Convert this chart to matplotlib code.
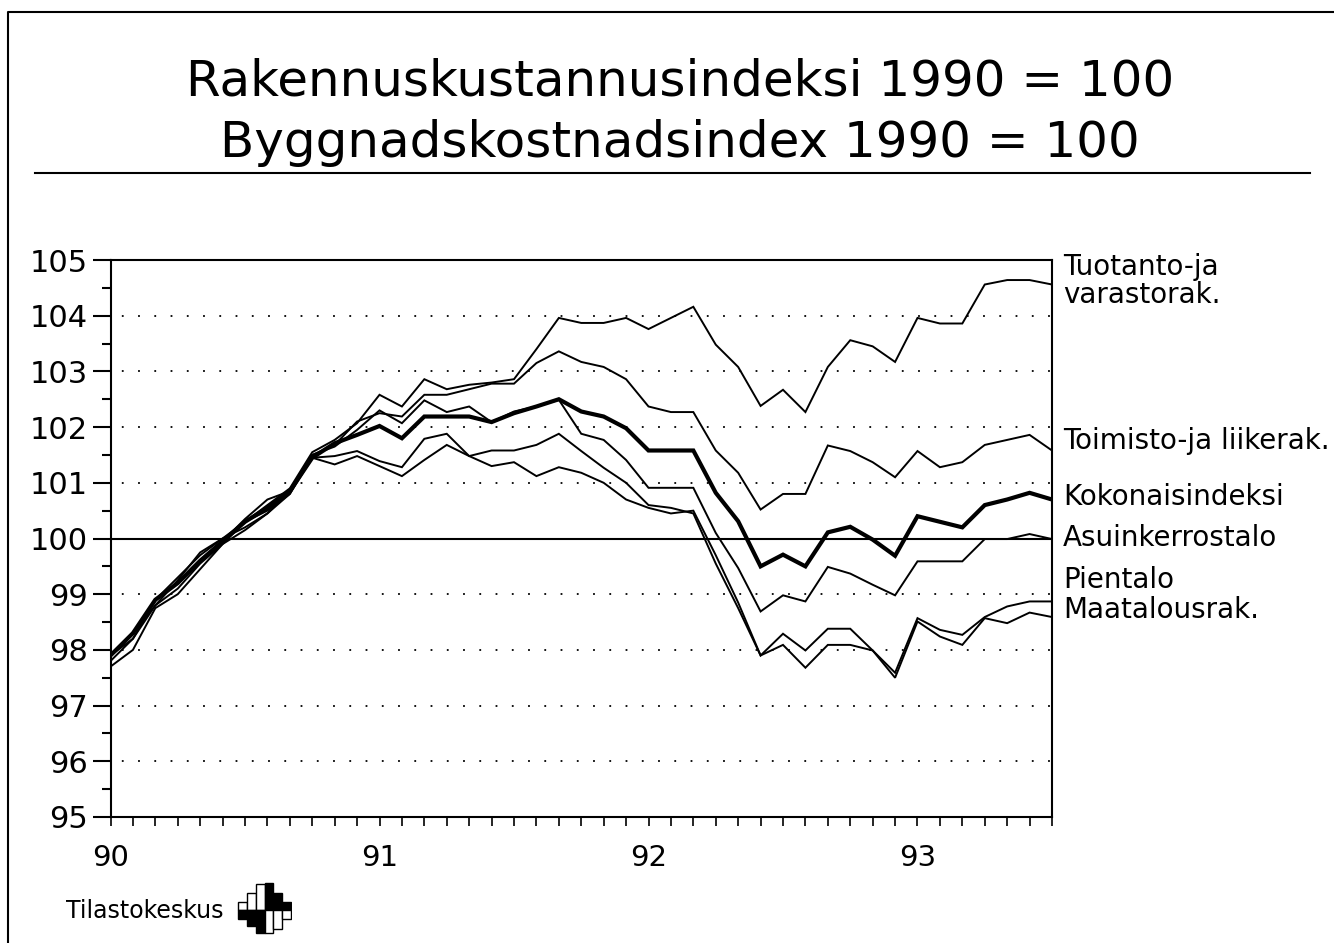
import matplotlib.pyplot as plt
from matplotlib.lines import Line2D

plt.rcParams['font.family'] = 'DejaVu Sans'

# monthly index, Jan 1990 .. Jul 1993 (43 months)
months = list(range(43))
year_ticks = [0, 12, 24, 36]
year_labels = ['90', '91', '92', '93']

tuotanto = [97.9, 98.3, 98.9, 99.3, 99.7, 100.0, 100.3, 100.6, 100.9, 101.55,
            101.77, 102.07, 102.58, 102.37, 102.86, 102.68, 102.76, 102.8, 102.86, 103.4,
            103.96, 103.87, 103.87, 103.96, 103.76, 103.96, 104.16, 103.48, 103.08, 102.38,
            102.67, 102.27, 103.08, 103.56, 103.45, 103.17, 103.96, 103.86, 103.86, 104.56,
            104.64, 104.64, 104.56]
toimisto = [97.9, 98.2, 98.9, 99.2, 99.6, 99.95, 100.35, 100.7, 100.85, 101.5,
            101.68, 102.1, 102.25, 102.19, 102.58, 102.58, 102.68, 102.78, 102.78, 103.15,
            103.36, 103.17, 103.08, 102.86, 102.37, 102.27, 102.27, 101.58, 101.18, 100.52,
            100.8, 100.8, 101.67, 101.57, 101.37, 101.1, 101.57, 101.28, 101.37, 101.68,
            101.77, 101.86, 101.58]
kokonais = [97.9, 98.3, 98.9, 99.2, 99.6, 99.95, 100.3, 100.55, 100.85, 101.45,
            101.71, 101.86, 102.02, 101.8, 102.19, 102.19, 102.19, 102.09, 102.25, 102.37,
            102.5, 102.28, 102.19, 101.98, 101.58, 101.58, 101.58, 100.82, 100.31, 99.5,
            99.71, 99.5, 100.11, 100.21, 99.98, 99.69, 100.4, 100.3, 100.2, 100.6,
            100.7, 100.82, 100.7]
asuin = [97.8, 98.2, 98.8, 99.1, 99.55, 99.9, 100.3, 100.5, 100.8, 101.5,
         101.65, 101.95, 102.3, 102.07, 102.48, 102.27, 102.37, 102.09, 102.28, 102.37,
         102.49, 101.88, 101.77, 101.41, 100.91, 100.91, 100.91, 100.1, 99.47, 98.69,
         98.98, 98.87, 99.49, 99.37, 99.17, 98.98, 99.59, 99.59, 99.59, 99.99,
         99.99, 100.08, 99.99]
pientalo = [97.9, 98.3, 98.8, 99.25, 99.75, 100.0, 100.2, 100.45, 100.85, 101.45,
            101.48, 101.57, 101.39, 101.28, 101.79, 101.88, 101.48, 101.3, 101.37, 101.12,
            101.28, 101.18, 101.0, 100.7, 100.55, 100.45, 100.5, 99.7, 98.85, 97.9,
            98.29, 97.99, 98.38, 98.38, 97.99, 97.59, 98.57, 98.36, 98.27, 98.59,
            98.78, 98.87, 98.87]
maatalous = [97.7, 98.0, 98.75, 99.0, 99.45, 99.9, 100.15, 100.45, 100.8, 101.45,
             101.33, 101.48, 101.3, 101.12, 101.41, 101.68, 101.48, 101.58, 101.58, 101.68,
             101.88, 101.57, 101.27, 101.0, 100.6, 100.55, 100.45, 99.55, 98.75, 97.9,
             98.09, 97.68, 98.09, 98.09, 97.99, 97.5, 98.51, 98.24, 98.09, 98.57,
             98.48, 98.67, 98.59]

series = [tuotanto, toimisto, kokonais, asuin, pientalo, maatalous]
names = ['Tuotanto-ja\nvarastorak.', 'Toimisto-ja liikerak.', 'Kokonaisindeksi',
         'Asuinkerrostalo', 'Pientalo', 'Maatalousrak.']
widths = [1.4, 1.4, 3.0, 1.4, 1.4, 1.4]
label_y = [104.62, 101.75, 100.74, 100.0, 99.25, 98.72]

fig = plt.figure(figsize=(13.34, 9.43), dpi=100)
W, H = 1334, 943

# frame (left and top edges visible) and title rule
fig.add_artist(Line2D([8 / W, 8 / W, 1.0], [0.0, 1 - 12 / H, 1 - 12 / H], color='black', lw=1.5))
fig.add_artist(Line2D([35 / W, 1310 / W], [1 - 173 / H] * 2, color='black', lw=1.5))

fig.text(0.51, 1 - 96 / H, 'Rakennuskustannusindeksi 1990 = 100',
         ha='center', va='baseline', fontsize=36)
fig.text(0.51, 1 - 157 / H, 'Byggnadskostnadsindex 1990 = 100',
         ha='center', va='baseline', fontsize=36)

ax = fig.add_axes([110.5 / W, 1 - 817 / H, (1052 - 110.5) / W, (817 - 260) / H])

for v in [96, 97, 98, 99, 101, 102, 103, 104]:
    ax.axhline(v, color='black', lw=1.3, ls=(3, (1, 8)))
ax.axhline(100, color='black', lw=1.5)

for s, lw in zip(series, widths):
    ax.plot(months, s, color='black', lw=lw, solid_joinstyle='miter')

for name, y in zip(names, label_y):
    ax.text(42.5, y, name, fontsize=20, ha='left', va='center', linespacing=1.0,
            clip_on=False)

ax.set_xlim(0, 42)
ax.set_ylim(95, 105)
ax.set_yticks(range(95, 106))
ax.set_yticks([v + 0.5 for v in range(95, 105)], minor=True)
ax.set_xticks(year_ticks)
ax.set_xticklabels(year_labels)
ax.set_xticks(months, minor=True)

ax.tick_params(axis='y', which='major', direction='out', length=13, width=1.5, pad=3, labelsize=22)
ax.tick_params(axis='y', which='minor', direction='out', length=6.5, width=1.5)
ax.tick_params(axis='x', which='both', direction='out', length=6.5, width=1.2, pad=13, labelsize=21)
for sp in ax.spines.values():
    sp.set_linewidth(1.5)

# footer with the logo
fig.text(224 / W, 1 - 911 / H, 'Tilastokeskus', ha='right', va='center', fontsize=17)

logo_up = [25, 55, 85, 87, 55, 25]
logo_down = [28, 50, 75, 75, 60, 30]
up_fill = ['white', 'white', 'white', 'black', 'black', 'black']
down_fill = ['black', 'black', 'black', 'white', 'white', 'white']
lax = fig.add_axes([237 / W, 1 - 935 / H, 55 / W, 53 / H])
lax.bar(range(6), logo_up, width=1.0, color=up_fill, edgecolor='black', lw=1)
lax.bar(range(6), [-d for d in logo_down], width=1.0, color=down_fill, edgecolor='black', lw=1)
lax.set_xlim(-0.6, 5.6)
lax.set_ylim(-80, 90)
lax.axis('off')

fig.savefig('out.png', dpi=100)
